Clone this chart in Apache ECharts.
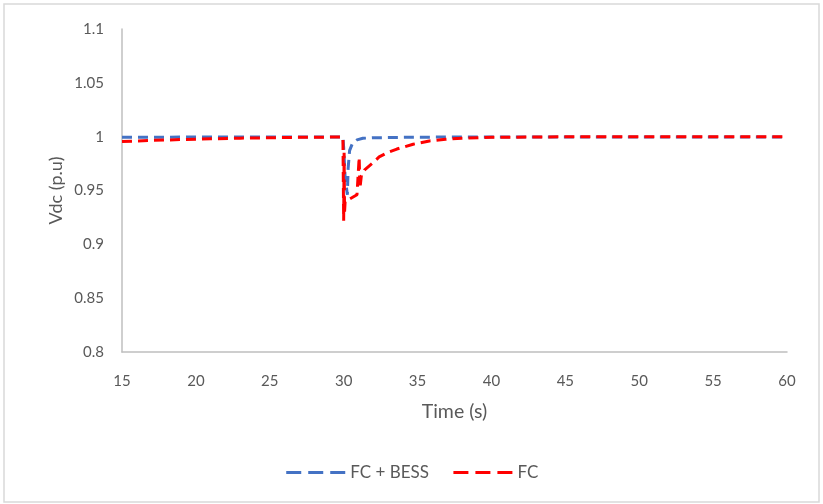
<!DOCTYPE html>
<html>
<head>
<meta charset="utf-8">
<script src="https://cdn.jsdelivr.net/npm/echarts@6/dist/echarts.min.js"></script>
<style>
  html, body { margin: 0; padding: 0; background: #ffffff; }
  #chart { width: 823px; height: 504px; }
</style>
</head>
<body>
<div id="chart"></div>
<script>
// DC-link voltage response (p.u.) to a load step at t = 30 s
var xTicks = [15, 20, 25, 30, 35, 40, 45, 50, 55, 60];
var yTicks = [0.8, 0.85, 0.9, 0.95, 1, 1.05, 1.1];

// FC + BESS
var fcBessTime = [15, 20, 25, 29.95, 30.0, 30.1, 30.25, 30.3, 30.4, 30.6, 30.9, 31.3, 32, 35, 40, 60];
var fcBessVdc  = [0.9995, 0.9996, 0.9997, 0.9998, 0.99, 0.962, 0.946, 0.97, 0.987, 0.994, 0.997, 0.9985, 0.999, 0.9995, 0.9998, 0.9998];

// FC only
var fcTime = [15, 17, 19, 21, 23, 25, 27, 29.95, 30.0, 30.03, 30.06, 30.1, 30.4, 30.9,
              31.05, 31.1, 31.2, 31.4, 32.0, 32.4, 33.0, 33.6, 34.7, 35.8, 36.9, 38, 40, 45, 60];
var fcVdc  = [0.9955, 0.9965, 0.9973, 0.998, 0.9986, 0.999, 0.9994, 0.9997, 0.922, 0.985, 0.93, 0.94, 0.942, 0.946,
              0.981, 0.952, 0.964, 0.969, 0.976, 0.9812, 0.9855, 0.9885, 0.993, 0.996, 0.9975, 0.9986, 0.9994, 0.9999, 1.0];

function pairs(xs, ys) {
  return xs.map(function (x, i) { return [x, ys[i]]; });
}

var textColor = '#595959';
var fontFam = 'Lato, "Liberation Sans", sans-serif';

var chart = echarts.init(document.getElementById('chart'), null, { renderer: 'canvas' });
chart.setOption({
  backgroundColor: '#ffffff',
  animation: false,
  graphic: [{
    type: 'rect',
    shape: { x: 4, y: 4, width: 815, height: 498 },
    style: { fill: 'none', stroke: '#d9d9d9', lineWidth: 1.5 },
    silent: true
  }],
  grid: { left: 122, right: 36, top: 29, bottom: 152 },
  legend: {
    top: 459,
    left: 'center',
    itemWidth: 59,
    itemHeight: 14,
    itemGap: 23,
    itemStyle: { opacity: 0 },
    lineStyle: { width: 3, type: [15, 7] },
    textStyle: { color: textColor, fontSize: 17, fontFamily: fontFam },
    data: ['FC + BESS', 'FC']
  },
  xAxis: {
    type: 'value',
    min: 15, max: 60, interval: 5,
    name: 'Time (s)',
    nameLocation: 'middle',
    nameGap: 50,
    nameMoveOverlap: false,
    nameTextStyle: { color: textColor, fontSize: 19.5, fontFamily: fontFam },
    axisLine: { show: true, lineStyle: { color: '#bfbfbf', width: 1.5 } },
    axisTick: { show: false },
    splitLine: { show: false },
    axisLabel: {
      color: textColor, fontSize: 15, fontFamily: fontFam, margin: 22,
      formatter: function (v) { return xTicks.indexOf(v) >= 0 ? String(v) : ''; }
    }
  },
  yAxis: {
    type: 'value',
    min: 0.8, max: 1.1, interval: 0.05,
    name: 'Vdc (p.u)',
    nameLocation: 'middle',
    nameGap: 57,
    nameMoveOverlap: false,
    nameRotate: 90,
    nameTextStyle: { color: textColor, fontSize: 18, fontFamily: fontFam },
    axisLine: { show: true, lineStyle: { color: '#bfbfbf', width: 1.5 } },
    axisTick: { show: false },
    splitLine: { show: false },
    axisLabel: {
      color: textColor, fontSize: 15, fontFamily: fontFam, margin: 18,
      formatter: function (v) {
        var r = Math.round(v * 100) / 100;
        return yTicks.indexOf(r) >= 0 ? String(r) : '';
      }
    }
  },
  series: [
    {
      name: 'FC + BESS',
      type: 'line',
      data: pairs(fcBessTime, fcBessVdc),
      showSymbol: false,
      symbol: 'none',
      color: '#4472C4',
      lineStyle: { color: '#4472C4', width: 3, type: [10, 6] },
      z: 2
    },
    {
      name: 'FC',
      type: 'line',
      data: pairs(fcTime, fcVdc),
      showSymbol: false,
      symbol: 'none',
      color: '#FF0000',
      lineStyle: { color: '#FF0000', width: 3, type: [10, 6] },
      z: 3
    }
  ]
});
</script>
</body>
</html>
